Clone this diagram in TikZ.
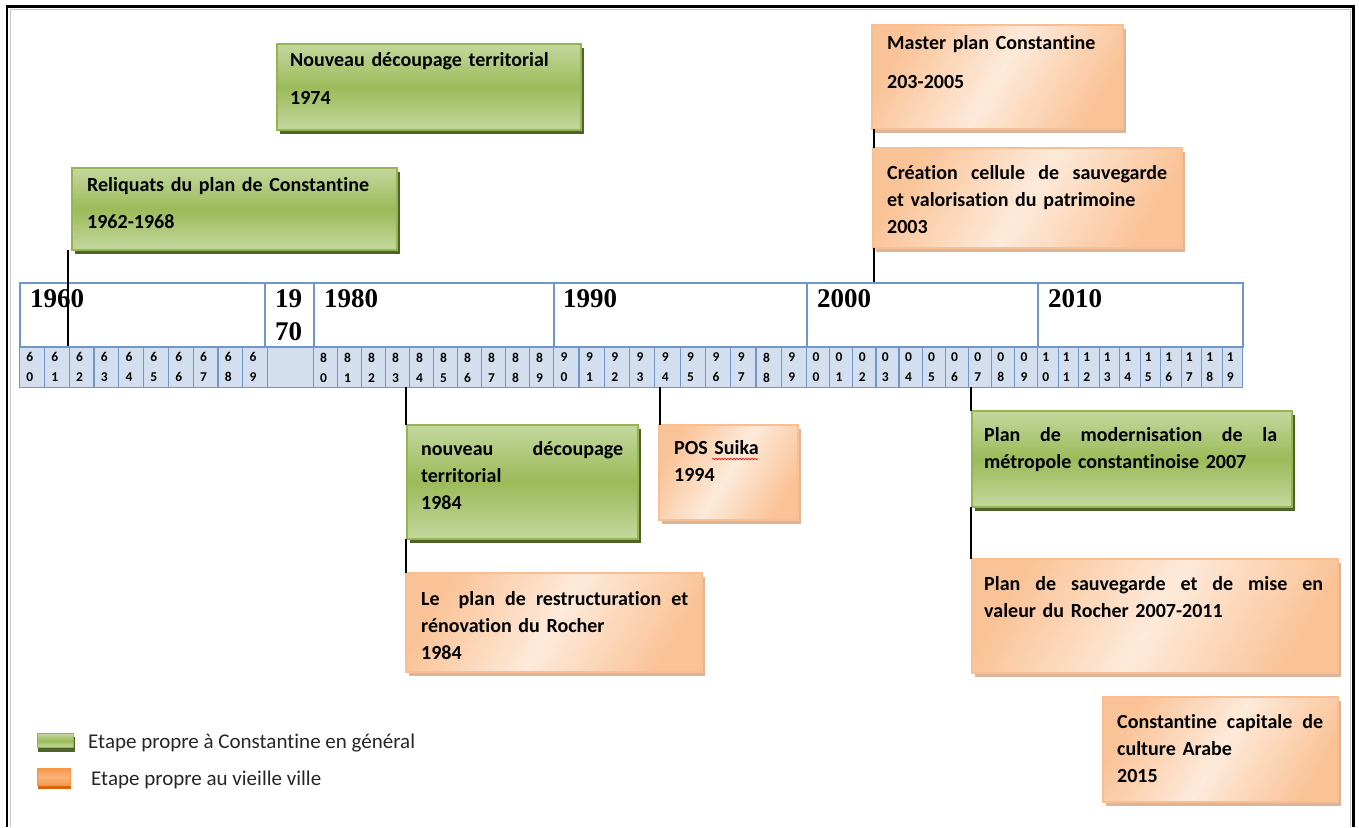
\documentclass[tikz,border=0pt]{standalone}
\usepackage{fontspec}
\setmainfont{Carlito}[Ligatures=NoCommon]
\newfontfamily\yearfont{Liberation Serif}
\usetikzlibrary{calc,decorations.pathmorphing}
\definecolor{gmid}{HTML}{9BBB59}
\definecolor{glight}{HTML}{C4D79E}
\definecolor{gborder}{HTML}{93B552}
\definecolor{gshad}{HTML}{4F6228}
\definecolor{odark}{HTML}{FAC397}
\definecolor{olight}{HTML}{FDEADA}
\definecolor{oborder}{HTML}{F9BE92}
\definecolor{oshad}{HTML}{D9B59A}
\definecolor{tlblue}{HTML}{6F97C9}
\definecolor{tlfill}{HTML}{D3DFEE}
\definecolor{lgor}{HTML}{F79646}
\definecolor{lgorl}{HTML}{FAB27A}
\definecolor{lgord}{HTML}{D9640F}
\tikzset{
 gbox/.style={draw=gborder, line width=1.2pt, top color=glight, bottom color=glight, middle color=gmid},
 obox/.style={draw=oborder, line width=1.2pt, left color=odark, right color=odark, middle color=olight, shading angle=60},
 gshadow/.style={fill=gshad},
 oshadow/.style={fill=oshad},
 txt/.style={anchor=base west, inner sep=0pt, align=left, font=\bfseries\fontsize{20}{27}\selectfont},
 link/.style={draw=black, line width=1.3pt},
 yr/.style={anchor=base west, inner sep=0pt, font=\yearfont\bfseries\fontsize{27}{30}\selectfont},
 dec/.style={draw=tlblue, line width=1.5pt, fill=white, minimum height=64pt, anchor=north west, inner sep=0pt},
 cell/.style={draw=tlblue, line width=1.2pt, fill=tlfill, minimum height=40pt, anchor=north west, inner sep=0pt},
 dig/.style={inner sep=0pt, font=\bfseries\fontsize{13.5}{20}\selectfont, align=center},
 lgtxt/.style={anchor=base west, inner sep=0pt, font=\fontsize{21}{24}\selectfont, text=black!85},
}
\newcommand\drawstage[6]{%
  \fill[#6shadow] (#2+2.5,#3+3.5) rectangle ++(#4,#5);
  \node[#6box, anchor=north west, minimum width=#4pt, minimum height=#5pt, inner sep=0pt, outer sep=0pt] (#1) at (#2,#3) {};
}
\begin{document}
\begin{tikzpicture}[x=1pt,y=-1pt]
\useasboundingbox (0,0) rectangle (1359,827);
% frame
\draw[gray!45, line width=1pt] (10,827) -- (10,9.5) -- (1350.5,9.5) -- (1350.5,827);
\draw[line width=2.5pt] (7,827) -- (7,6.5) -- (1353.5,6.5) -- (1353.5,827);

% timeline upper row
\node[dec, minimum width=245pt] (d60) at (19,282) {};
\node[dec, minimum width=49pt] (d70) at (264,282) {};
\node[dec, minimum width=240pt] (d80) at (313,282) {};
\node[dec, minimum width=253pt] (d90) at (553,282) {};
\node[dec, minimum width=231pt] (d00) at (806,282) {};
\node[dec, minimum width=205pt] (d10) at (1037,282) {};
\node[yr] (y60) at (30,307) {1960};
\node[yr] (y70a) at (275,307) {19};
\node[yr] (y70b) at (275,340) {70};
\node[yr] (y80) at (324,307) {1980};
\node[yr] (y90) at (563,307) {1990};
\node[yr] (y00) at (817,307) {2000};
\node[yr] (y10) at (1048,307) {2010};

% timeline lower row
\node[cell, minimum width=46pt] (cblank) at (267,347) {};
\foreach \xs/\xe/\grp in {19/267/6, 313/553/8, 553/806/9, 806/1037/0, 1037/1242/1} {
  \foreach \k in {0,...,9} {
    \pgfmathsetmacro\xa{\xs+(\xe-\xs)*\k/10}
    \pgfmathsetmacro\w{(\xe-\xs)/10}
    \edef\fd{\grp}\ifnum\grp=9 \ifnum\k=8 \def\fd{8}\fi\fi
    \node[cell, minimum width=\w pt] (c\grp\k) at (\xa,347) {};
    \node[dig, anchor=north] (n\grp\k) at (\xa+\w/2-1.5,352.5) {\fd\\\k};
  }
}

% boxes
\drawstage{b1}{277}{44}{304}{86}{g}
\drawstage{b2}{72}{168}{325}{82}{g}
\drawstage{b3}{872}{25}{251}{104}{o}
\drawstage{b4}{873}{148}{309}{100}{o}
\drawstage{b5}{407}{425}{231}{114}{g}
\drawstage{b7}{659}{425}{139}{95}{o}
\drawstage{b6}{406}{573}{296}{99}{o}
\drawstage{b8}{972}{411}{320}{96}{g}
\drawstage{b9}{972}{559}{366}{114}{o}
\drawstage{b10}{1103}{697}{235}{105}{o}

% texts
\node[txt, text width=285pt] (t1) at (290,66.5) {Nouveau découpage territorial\\[11pt]1974};
\node[txt, text width=300pt] (t2) at (87,191.5) {Reliquats du plan de Constantine\\[10pt]1962-1968};
\node[txt, text width=230pt] (t3) at (887,49) {Master plan Constantine\\[12pt]203-2005};
\node[txt, text width=290pt] (t4) at (887,179) {\hbox to 280pt{Création\hfill cellule\hfill de\hfill sauvegarde}\\et valorisation du patrimoine\\2003};
\node[txt, text width=210pt] (t5) at (421,455) {\hbox to 202pt{nouveau\hfill découpage}\\territorial\\1984};
\node[txt, text width=275pt] (t6) at (421,605) {\hbox to 267pt{Le\hspace{19pt}plan\hfill de\hfill restructuration\hfill et}\\rénovation du Rocher\\1984};
\node[txt, text width=120pt] (t7) at (674,454) {POS Suika\\1994};
\draw[red, line width=0.6pt, decorate, decoration={snake, amplitude=0.8pt, segment length=3pt}] (712,459) -- (758,459);
\node[txt, text width=300pt] (t8) at (984,441) {\hbox to 293pt{Plan\hfill de\hfill modernisation\hfill de\hfill la}\\métropole constantinoise 2007};
\node[txt, text width=345pt] (t9) at (984,590) {\hbox to 339pt{Plan\hfill de\hfill sauvegarde\hfill et\hfill de\hfill mise\hfill en}\\valeur du Rocher 2007-2011};
\node[txt, text width=215pt] (t10) at (1117,728) {\hbox to 206pt{Constantine\hfill capitale\hfill de}\\culture Arabe\\2015};

% connectors
\coordinate (k61) at (68,346);
\draw[link] ($(b2.south west)+(-4,0)$) -- (k61);
\coordinate (k02) at (874,282);
\draw[link] (b3.south -| k02) -- (b4.north -| k02);
\draw[link] (b4.south -| k02) -- (k02);
\coordinate (k83) at (406,387);
\draw[link] (k83) -- (b5.north -| k83);
\draw[link] (b5.south -| k83) -- (b6.north -| k83);
\coordinate (k94) at (660,387);
\draw[link] (k94) -- (b7.north -| k94);
\coordinate (k06) at (971,387);
\draw[link] (k06) -- (b8.north -| k06);
\draw[link] (b8.south -| k06) -- (b9.north -| k06);

% legend
\fill[gshad] (38,737) rectangle (75,752);
\node[gbox, anchor=north west, minimum width=36pt, minimum height=14pt, inner sep=0pt] (lg1) at (37,733) {};
\fill[lgord] (38,772) rectangle (71,789);
\node[draw=lgor, line width=1pt, top color=lgor, bottom color=lgor, middle color=lgorl, anchor=north west, minimum width=33pt, minimum height=17pt, inner sep=0pt] (lg2) at (37,768) {};
\node[lgtxt] (lt1) at (88,748) {Etape propre à Constantine en général};
\node[lgtxt] (lt2) at (91,785) {Etape propre au vieille ville};
\end{tikzpicture}
\end{document}
